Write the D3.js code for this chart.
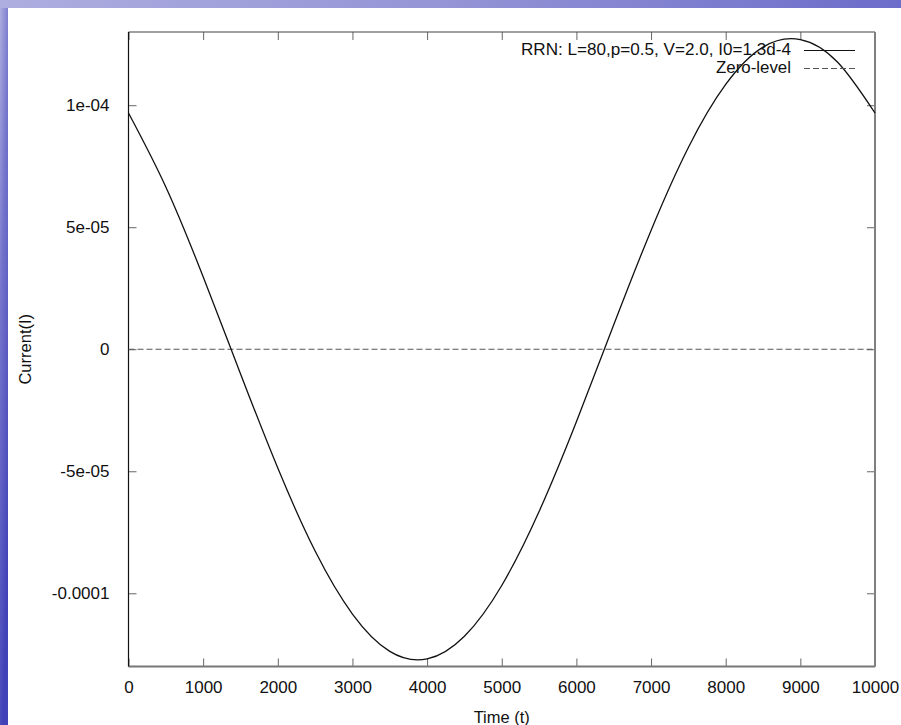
<!DOCTYPE html>
<html>
<head>
<meta charset="utf-8">
<script src="https://cdn.jsdelivr.net/npm/d3@7"></script>
<style>
  html, body { margin: 0; padding: 0; background: #fff; }
  svg { display: block; }
  text { font-family: "Liberation Sans", Arial, Helvetica, sans-serif; fill: #111; }
</style>
</head>
<body>
<svg id="chart" width="901" height="725"></svg>
<script>
// Simulated current I(t) of the RRN network, sampled every 500 time units
const timeSteps = [0, 500, 1000, 1500, 2000, 2500, 3000, 3500, 4000, 4500, 5000,
                   5500, 6000, 6500, 7000, 7500, 8000, 8500, 9000, 9500, 10000];
const currentValues = [9.68e-5, 6.65e-5, 2.97e-5, -1.00e-5, -4.87e-5, -8.27e-5, -1.085e-4,
                       -1.238e-4, -1.269e-4, -1.176e-4, -9.68e-5, -6.65e-5, -2.97e-5,
                       1.00e-5, 4.87e-5, 8.27e-5, 1.085e-4, 1.238e-4, 1.269e-4, 1.176e-4, 9.68e-5];
const zeroLevel = [0, 0];
const zeroTimes = [0, 10000];

const xTickValues = [0, 1000, 2000, 3000, 4000, 5000, 6000, 7000, 8000, 9000, 10000];
const xTickLabels = ["0", "1000", "2000", "3000", "4000", "5000", "6000", "7000", "8000", "9000", "10000"];
const yTickValues = [1e-4, 5e-5, 0, -5e-5, -1e-4];
const yTickLabels = ["1e-04", "5e-05", "0", "-5e-05", "-0.0001"];

const seriesNames = ["RRN: L=80,p=0.5, V=2.0, I0=1.3d-4", "Zero-level"];
const xTitle = "Time (t)";
const yTitle = "Current(I)";

const W = 901, H = 725;
const plot = { left: 128.5, top: 32, right: 875, bottom: 666.5 };
const FONT = "17px";

const svg = d3.select("#chart");

// slide backdrop
const defs = svg.append("defs");
const grad = defs.append("linearGradient").attr("id", "slideBg")
  .attr("x1", "0").attr("y1", "0").attr("x2", "0.35").attr("y2", "1");
grad.append("stop").attr("offset", "0").attr("stop-color", "#aeaee0");
grad.append("stop").attr("offset", "0.4").attr("stop-color", "#7474cc");
grad.append("stop").attr("offset", "1").attr("stop-color", "#4242b8");
const gradTop = defs.append("linearGradient").attr("id", "slideTop")
  .attr("x1", "0").attr("y1", "0").attr("x2", "1").attr("y2", "0");
gradTop.append("stop").attr("offset", "0").attr("stop-color", "#aeaee0");
gradTop.append("stop").attr("offset", "0.5").attr("stop-color", "#9494d6");
gradTop.append("stop").attr("offset", "1").attr("stop-color", "#6c6cca");

svg.append("rect").attr("x", 0).attr("y", 0).attr("width", 8).attr("height", H).attr("fill", "url(#slideBg)");
svg.append("rect").attr("x", 0).attr("y", 0).attr("width", W).attr("height", 8).attr("fill", "url(#slideTop)");
svg.append("rect").attr("x", 8).attr("y", 8).attr("width", W - 8).attr("height", H - 8).attr("fill", "#fff");

const x = d3.scaleLinear().domain([0, 10000]).range([plot.left, plot.right]);
const y = d3.scaleLinear().domain([-1.3e-4, 1.3e-4]).range([plot.bottom, plot.top]);

const tickLen = 8;
const fmtX = d => xTickLabels[xTickValues.indexOf(d)];
const fmtY = d => yTickLabels[yTickValues.indexOf(d)];

// bottom axis with labels
const gx = svg.append("g").attr("transform", `translate(0,${plot.bottom})`)
  .call(d3.axisBottom(x).tickValues(xTickValues).tickFormat(fmtX).tickSizeInner(-tickLen).tickSizeOuter(0).tickPadding(14));
gx.select(".domain").remove();
gx.selectAll(".tick line").attr("stroke", "#666");
gx.selectAll(".tick text").attr("font-size", FONT).attr("fill", "#111")
  .style("font-family", "'Liberation Sans', Arial, sans-serif");

// top mirror ticks
const gxt = svg.append("g").attr("transform", `translate(0,${plot.top})`)
  .call(d3.axisTop(x).tickValues(xTickValues).tickFormat("").tickSizeInner(-tickLen).tickSizeOuter(0));
gxt.select(".domain").remove();
gxt.selectAll(".tick line").attr("stroke", "#666");

// left axis with labels
const gy = svg.append("g").attr("transform", `translate(${plot.left},0)`)
  .call(d3.axisLeft(y).tickValues(yTickValues).tickFormat(fmtY).tickSizeInner(-tickLen).tickSizeOuter(0).tickPadding(19));
gy.select(".domain").remove();
gy.selectAll(".tick line").attr("stroke", "#666");
gy.selectAll(".tick text").attr("font-size", FONT).attr("fill", "#111")
  .style("font-family", "'Liberation Sans', Arial, sans-serif");

// right mirror ticks
const gyr = svg.append("g").attr("transform", `translate(${plot.right},0)`)
  .call(d3.axisRight(y).tickValues(yTickValues).tickFormat("").tickSizeInner(-tickLen).tickSizeOuter(0));
gyr.select(".domain").remove();
gyr.selectAll(".tick line").attr("stroke", "#666");

// plot border
svg.append("line").attr("x1", plot.left).attr("x2", plot.right).attr("y1", plot.top).attr("y2", plot.top)
  .attr("stroke", "#444").attr("stroke-width", 1.2);
svg.append("line").attr("x1", plot.left).attr("x2", plot.right).attr("y1", plot.bottom).attr("y2", plot.bottom)
  .attr("stroke", "#777").attr("stroke-width", 2);
svg.append("line").attr("x1", plot.right).attr("x2", plot.right).attr("y1", plot.top).attr("y2", plot.bottom)
  .attr("stroke", "#808080").attr("stroke-width", 2);
svg.append("line").attr("x1", plot.left).attr("x2", plot.left).attr("y1", plot.top).attr("y2", plot.bottom)
  .attr("stroke", "#111").attr("stroke-width", 1.2);

// zero reference line
const zeroData = zeroTimes.map((t, i) => ({ t, v: zeroLevel[i] }));
svg.append("path").datum(zeroData)
  .attr("d", d3.line().x(d => x(d.t)).y(d => y(d.v)))
  .attr("fill", "none").attr("stroke", "#555").attr("stroke-width", 1.2)
  .attr("stroke-dasharray", "6,3");

// current curve
const curveData = timeSteps.map((t, i) => ({ t, v: currentValues[i] }));
svg.append("path").datum(curveData)
  .attr("d", d3.line().x(d => x(d.t)).y(d => y(d.v)).curve(d3.curveNatural))
  .attr("fill", "none").attr("stroke", "#111").attr("stroke-width", 1.3);

// key
const key = svg.append("g");
const keyRows = [
  { name: seriesNames[0], dash: null, color: "#111", width: 270 },
  { name: seriesNames[1], dash: "6,3", color: "#555", width: 75 }
];
keyRows.forEach((r, i) => {
  const cy = 49.5 + i * 18;
  key.append("text").attr("x", 791).attr("y", cy).attr("dy", "0.35em")
    .attr("text-anchor", "end").attr("font-size", "16px")
    .attr("textLength", r.width).attr("lengthAdjust", "spacingAndGlyphs")
    .text(r.name);
  key.append("line").attr("x1", 804).attr("x2", 855).attr("y1", cy + 1).attr("y2", cy + 1)
    .attr("stroke", r.color).attr("stroke-width", 1.2)
    .attr("stroke-dasharray", r.dash);
});

// axis titles
svg.append("text").attr("x", (plot.left + plot.right) / 2).attr("y", 717).attr("dy", "0.35em")
  .attr("text-anchor", "middle").attr("font-size", "16.5px").text(xTitle);
svg.append("text").attr("transform", `translate(25,${(plot.top + plot.bottom) / 2}) rotate(-90)`)
  .attr("dy", "0.35em").attr("text-anchor", "middle").attr("font-size", "16.5px").text(yTitle);
</script>
</body>
</html>
